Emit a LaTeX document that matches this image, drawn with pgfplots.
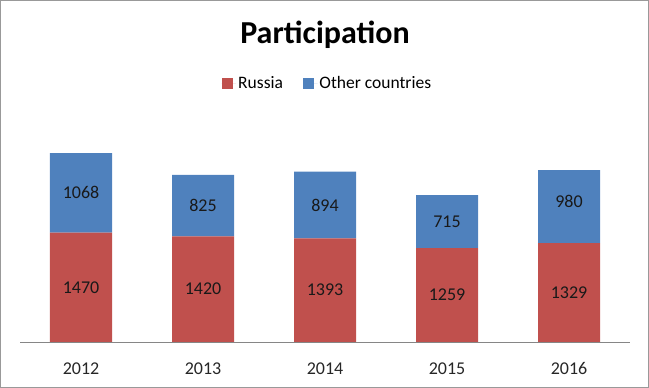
\documentclass[border=0pt]{standalone}
\usepackage{pgfplots}
\usepackage{pgfplotstable}
\usepackage{fontspec}
\setmainfont{Carlito}
\pgfplotsset{compat=1.18}
\definecolor{rus}{HTML}{C0504D}
\definecolor{oth}{HTML}{4F81BD}
\definecolor{axgray}{HTML}{868686}
\pgfplotstableread{
x r o
0 1470 1068
1 1420 825
2 1393 894
3 1259 715
4 1329 980
}\datatable
\pgfplotstableread{
x m l
0 735 1470
1 710 1420
2 696.5 1393
3 629.5 1259
4 664.5 1329
0 2004 1068
1 1832.5 825
2 1840 894
3 1616.5 715
4 1883 980
}\labeltable
\begin{document}
\begin{tikzpicture}
\useasboundingbox (0,0) rectangle (649bp,388bp);
\draw[line width=1bp, color=gray!80] (0.5bp,0.5bp) rectangle (648.5bp,387.5bp);
\pgfplotsset{
  common/.style={
    at={(20bp,46bp)}, anchor=south west, scale only axis,
    width=610bp, height=223.4bp,
    xmin=-0.5, xmax=4.5, ymin=0, ymax=3000,
  }
}
\begin{axis}[common,
  ybar stacked, bar width=62bp,
  axis y line=none, axis x line*=bottom,
  x axis line style={draw=axgray, line width=0.8bp, -},
  xtick={0,1,2,3,4}, xticklabels={2012,2013,2014,2015,2016},
  major tick length=0pt,
  xticklabel style={font=\fontsize{18bp}{20bp}\selectfont, text=black!85, yshift=-17bp},
  title={Participation},
  title style={font=\fontsize{32bp}{36bp}\selectfont\bfseries, at={(rel axis cs:0.5,1.35)}, anchor=center},
  legend style={at={(rel axis cs:0.504,1.157)}, anchor=center, draw=none, fill=none,
    legend columns=2, font=\fontsize{17.5bp}{20bp}\selectfont,
    /tikz/every even column/.append style={column sep=18bp}},
  legend image code/.code={\fill[#1] (0bp,-5.5bp) rectangle (11bp,5.5bp); \path (0bp,0bp) -- (14.5bp,0bp);},
]
\addplot[fill=rus, draw=none] table[x=x, y=r] {\datatable};
\addlegendentry{Russia}
\addplot[fill=oth, draw=none] table[x=x, y=o] {\datatable};
\addlegendentry{Other countries}
\end{axis}
\begin{axis}[common, hide axis]
\addplot[draw=none, mark=none, nodes near coords, point meta=explicit symbolic,
  every node near coord/.append style={anchor=center, font=\fontsize{18bp}{20bp}\selectfont, text=black!90}]
  table[x=x, y=m, meta=l] {\labeltable};
\end{axis}
\end{tikzpicture}
\end{document}
